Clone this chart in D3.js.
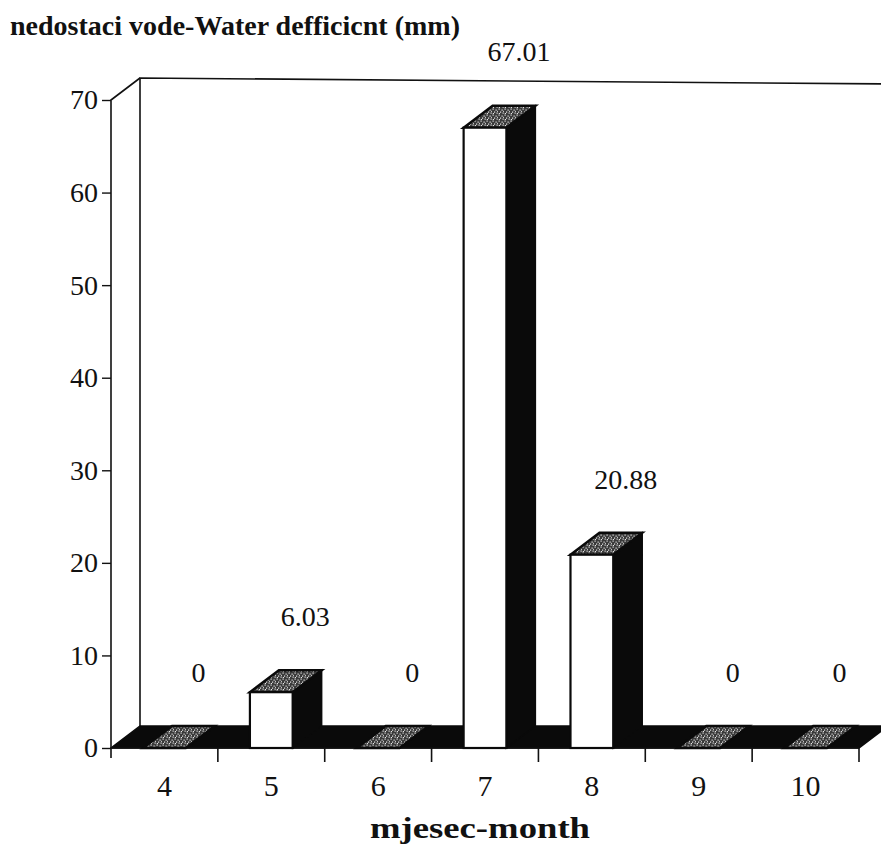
<!DOCTYPE html>
<html>
<head>
<meta charset="utf-8">
<script src="https://cdn.jsdelivr.net/npm/d3@7"></script>
<style>
  body { margin: 0; background: #fff; }
  text { font-family: 'Liberation Serif', 'Times New Roman', serif; fill: #111; }
</style>
</head>
<body>
<div id="chartFrame"></div>
<script>
const months = ['4', '5', '6', '7', '8', '9', '10']
const deficit = [0, 6.03, 0, 67.01, 20.88, 0, 0]
const valueLabels = ['0', '6.03', '0', '67.01', '20.88', '0', '0']
const yTicks = [0, 10, 20, 30, 40, 50, 60, 70]

const W = 881
const H = 845
const depth = { x: 29, y: -22 }
const frame = { left: 111, right: 859, base: 748, top: 100 }

let svg = d3.select('#chartFrame').append('svg')
  .attr('width', W)
  .attr('height', H)

// stipple for the bar tops
let defs = svg.append('defs')
let pat = defs.append('pattern')
  .attr('id', 'stipple')
  .attr('patternUnits', 'userSpaceOnUse')
  .attr('width', 6)
  .attr('height', 6)
pat.append('rect').attr('width', 6).attr('height', 6).attr('fill', '#3a3a3a')
const dots = [[0.5, 0.5], [3.5, 1.5], [2, 3.5], [4.5, 4.5], [0.8, 5], [5.2, 2.8]]
dots.forEach(d => {
  pat.append('rect')
    .attr('x', d[0]).attr('y', d[1])
    .attr('width', 1.2).attr('height', 1.2)
    .attr('fill', '#e6e6e6')
})

const xScale = d3.scaleBand()
  .domain(months)
  .range([frame.left, frame.right])
const yScale = d3.scaleLinear()
  .domain([0, 70])
  .range([frame.base, frame.top])

const line = d3.line()

// back wall
svg.append('path')
  .attr('d', line([
    [frame.left + depth.x, frame.base + depth.y],
    [frame.left + depth.x, frame.top + depth.y],
    [W + 10, frame.top + depth.y + 6]
  ]))
  .style('fill', 'none')
  .style('stroke', '#111')
  .style('stroke-width', 1.6)

// floor
svg.append('path')
  .attr('d', line([
    [frame.left, frame.base],
    [frame.right, frame.base],
    [frame.right + depth.x, frame.base + depth.y],
    [frame.left + depth.x, frame.base + depth.y]
  ]) + 'Z')
  .style('fill', '#0a0a0a')
  .style('stroke', '#0a0a0a')
  .style('stroke-width', 1.5)

// left side wall edge
svg.append('path')
  .attr('d', line([
    [frame.left, frame.base + 10],
    [frame.left, frame.top],
    [frame.left + depth.x, frame.top + depth.y]
  ]))
  .style('fill', 'none')
  .style('stroke', '#111')
  .style('stroke-width', 1.6)

// y axis
let yaxis = svg.append('g')
  .attr('transform', `translate(${frame.left},0)`)
  .call(d3.axisLeft(yScale).tickValues(yTicks).tickSize(9).tickPadding(4))
yaxis.select('.domain').remove()
yaxis.selectAll('line').style('stroke', '#111').style('stroke-width', 1.4)
yaxis.selectAll('text')
  .style('font-family', "'Liberation Serif', serif")
  .style('font-size', '28px')
  .style('fill', '#111')

// x axis: ticks at band boundaries, labels centred
let xg = svg.append('g')
xg.append('line')
  .attr('x1', frame.left).attr('x2', frame.right)
  .attr('y1', frame.base).attr('y2', frame.base)
  .style('stroke', '#111').style('stroke-width', 1.6)
xg.selectAll('.xtick')
  .data(months)
  .enter()
  .append('line')
  .attr('class', 'xtick')
  .attr('x1', d => xScale(d) + xScale.bandwidth())
  .attr('x2', d => xScale(d) + xScale.bandwidth())
  .attr('y1', frame.base)
  .attr('y2', frame.base + 14)
  .style('stroke', '#111')
  .style('stroke-width', 1.6)
xg.selectAll('.xlab')
  .data(months)
  .enter()
  .append('text')
  .attr('class', 'xlab')
  .attr('x', d => xScale(d) + xScale.bandwidth() / 2)
  .attr('y', 796)
  .attr('text-anchor', 'middle')
  .style('font-size', '30px')
  .text(d => d)

// bars
const barW = xScale.bandwidth() * 0.4
let bars = svg.append('g')
months.forEach((m, i) => {
  let x0 = xScale(m) + (xScale.bandwidth() - barW) / 2
  let x1 = x0 + barW
  let yb = yScale(0)
  let yt = yScale(deficit[i])
  let g = bars.append('g')
  // side
  g.append('path')
    .attr('d', line([[x1, yb], [x1, yt], [x1 + depth.x, yt + depth.y], [x1 + depth.x, yb + depth.y]]) + 'Z')
    .style('fill', '#0a0a0a')
    .style('stroke', '#0a0a0a')
    .style('stroke-width', 1.5)
  // top
  g.append('path')
    .attr('d', line([[x0, yt], [x1, yt], [x1 + depth.x, yt + depth.y], [x0 + depth.x, yt + depth.y]]) + 'Z')
    .style('fill', 'url(#stipple)')
    .style('stroke', '#0a0a0a')
    .style('stroke-width', 2.5)
  // front
  if (deficit[i] > 0) {
    g.append('rect')
      .attr('x', x0)
      .attr('y', yt)
      .attr('width', barW)
      .attr('height', yb - yt)
      .style('fill', '#fff')
      .style('stroke', '#0a0a0a')
      .style('stroke-width', 2.2)
  }
  // value label
  svg.append('text')
    .attr('x', x0 + barW / 2 + depth.x + 5)
    .attr('y', yt + depth.y - 54)
    .attr('dy', '0.35em')
    .attr('text-anchor', 'middle')
    .style('font-size', '28px')
    .text(valueLabels[i])
})

// titles
svg.append('text')
  .attr('x', 10)
  .attr('y', 35)
  .attr('textLength', 450)
  .style('font-size', '28px')
  .style('font-weight', 'bold')
  .text('nedostaci vode-Water defficicnt (mm)')

svg.append('text')
  .attr('x', 480)
  .attr('y', 838)
  .attr('text-anchor', 'middle')
  .attr('textLength', 220)
  .attr('lengthAdjust', 'spacingAndGlyphs')
  .style('font-size', '29px')
  .style('font-weight', 'bold')
  .text('mjesec-month')
</script>
</body>
</html>
